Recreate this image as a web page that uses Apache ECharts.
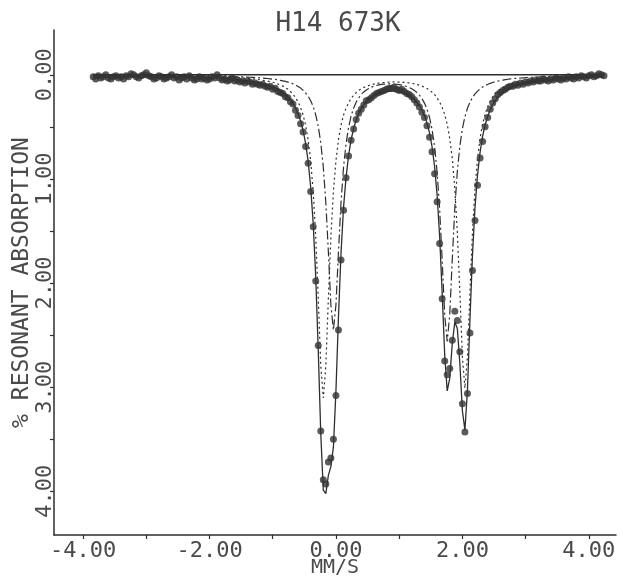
<!DOCTYPE html>
<html>
<head>
<meta charset="utf-8">
<script src="https://cdn.jsdelivr.net/npm/echarts@6/dist/echarts.min.js"></script>
<style>
html,body{margin:0;padding:0;background:#fff;}
#chart{width:623px;height:578px;}
</style>
</head>
<body>
<div id="chart"></div>
<script>
// Velocity channels (mm/s)
const velocity = [
-3.84,-3.80,-3.76,-3.72,-3.68,-3.64,-3.60,-3.56,-3.52,-3.48,-3.44,-3.40,-3.36,-3.32,-3.28,-3.24,-3.20,-3.16,-3.12,-3.08,-3.04,-3.00,
-2.96,-2.92,-2.88,-2.84,-2.80,-2.76,-2.72,-2.68,-2.64,-2.60,-2.56,-2.52,-2.48,-2.44,-2.40,-2.36,-2.32,-2.28,-2.24,-2.20,-2.16,-2.12,
-2.08,-2.04,-2.00,-1.96,-1.92,-1.88,-1.84,-1.80,-1.76,-1.72,-1.68,-1.64,-1.60,-1.56,-1.52,-1.48,-1.44,-1.40,-1.36,-1.32,-1.28,-1.24,
-1.20,-1.16,-1.12,-1.08,-1.04,-1.00,-0.96,-0.92,-0.88,-0.84,-0.80,-0.76,-0.72,-0.68,-0.64,-0.60,-0.56,-0.52,-0.48,-0.44,-0.40,-0.36,
-0.32,-0.28,-0.24,-0.20,-0.16,-0.12,-0.08,-0.04,0.00,0.04,0.08,0.12,0.16,0.20,0.24,0.28,0.32,0.36,0.40,0.44,0.48,0.52,0.56,0.60,
0.64,0.68,0.72,0.76,0.80,0.84,0.88,0.92,0.96,1.00,1.04,1.08,1.12,1.16,1.20,1.24,1.28,1.32,1.36,1.40,1.44,1.48,1.52,1.56,1.60,1.64,
1.68,1.72,1.76,1.80,1.84,1.88,1.92,1.96,2.00,2.04,2.08,2.12,2.16,2.20,2.24,2.28,2.32,2.36,2.40,2.44,2.48,2.52,2.56,2.60,2.64,2.68,
2.72,2.76,2.80,2.84,2.88,2.92,2.96,3.00,3.04,3.08,3.12,3.16,3.20,
3.24,3.28,3.32,3.36,3.40,3.44,3.48,3.52,3.56,3.60,3.64,3.68,3.72,3.76,3.80,3.84,3.88,3.92,3.96,4.00,4.04,4.08,4.12,4.16,4.20,4.24
];

// Measured % resonant absorption
const absorption = [
.02,.04,.01,.03,.02,.00,.03,.04,.02,.01,.03,.02,.04,.01,.02,-.01,.00,.02,.03,.01,.00,-.02,
.01,.02,.04,.03,.01,.02,.04,.03,.02,.00,.03,.02,.05,.03,.02,.04,.01,.03,.05,.04,.02,.04,
.03,.05,.04,.02,.03,.00,.03,.05,.04,.06,.05,.03,.06,.05,.07,.06,.08,.06,.07,.09,.08,.09,
.10,.09,.11,.12,.11,.14,.13,.16,.17,.18,.21,.22,.26,.28,.34,.39,.47,.55,.69,.85,1.12,1.46,
1.98,2.60,3.42,3.89,3.93,3.72,3.68,3.50,3.08,2.45,1.78,1.30,.99,.78,.63,.52,.43,.37,.33,.29,.25,.24,.22,.20,
.18,.17,.16,.15,.14,.13,.13,.12,.14,.15,.14,.16,.18,.19,.21,.24,.27,.31,.36,.41,.49,.60,.74,.95,1.22,1.62,
2.15,2.75,2.88,2.82,2.55,2.27,2.36,2.66,3.16,3.43,3.06,2.48,1.88,1.40,1.06,.80,.64,.50,.41,.33,.27,.23,.19,.17,.15,.14,
.12,.11,.11,.09,.10,.08,.09,.07,.08,.06,.07,.05,.06,
.06,.04,.05,.06,.04,.05,.03,.04,.05,.03,.04,.02,.03,.04,.02,.03,.01,.02,.03,.01,.00,.02,.01,-.01,.00,.01
];

// Fitted component A (dotted doublet)
const fitA = [
.01,.01,.01,.01,.01,.01,.01,.01,.01,.01,.01,.01,.01,.01,.01,.01,.01,.01,.01,.01,.01,.01,
.01,.01,.01,.01,.01,.01,.01,.01,.01,.01,.01,.01,.01,.01,.01,.01,.01,.01,.02,.02,.02,.02,
.02,.02,.02,.02,.02,.02,.02,.02,.02,.02,.023,.025,.026,.027,.029,.031,.032,.034,.036,.039,.042,.045,
.048,.052,.056,.061,.066,.072,.079,.088,.098,.109,.123,.140,.161,.186,.219,.260,.314,.385,.485,.624,.826,1.120,
1.554,2.149,2.794,3.104,2.794,2.149,1.554,1.120,.826,.624,.485,.386,.322,.269,.228,.196,.171,.151,.135,.122,.112,.103,.095,.089,
.084,.080,.077,.074,.072,.071,.070,.069,.070,.070,.072,.073,.075,.079,.083,.087,.093,.100,.109,.119,.132,.148,.167,.190,.222,.261,
.313,.381,.476,.611,.806,1.090,1.510,2.086,2.709,3.009,2.709,2.084,1.508,1.088,.803,.607,.472,.376,.307,.254,.214,.182,.158,.137,.121,.107,
.096,.086,.078,.071,.065,.060,.055,.051,.047,.044,.041,.038,.036,
.034,.032,.031,.029,.027,.026,.025,.024,.022,.021,.020,.019,.018,.018,.017,.016,.016,.015,.015,.014,.014,.013,.013,.012,.012,.012
];

// Fitted component B (dash-dot doublet)
const fitB = [
.01,.01,.01,.01,.01,.01,.01,.01,.01,.01,.01,.01,.01,.01,.01,.01,.01,.01,.01,.01,.01,.01,
.01,.01,.01,.01,.01,.01,.01,.01,.01,.01,.01,.01,.01,.01,.01,.01,.01,.01,.01,.01,.01,.01,
.01,.01,.01,.01,.01,.01,.01,.01,.01,.01,.016,.017,.018,.019,.020,.021,.022,.023,.024,.025,.027,.028,
.030,.032,.034,.036,.039,.042,.045,.049,.053,.058,.064,.070,.078,.087,.098,.112,.128,.148,.174,.206,.249,.305,
.384,.494,.653,.886,1.229,1.699,2.209,2.454,2.209,1.700,1.230,.887,.663,.505,.396,.318,.263,.221,.190,.165,.146,.132,.119,.110,
.103,.097,.093,.090,.088,.088,.088,.089,.091,.094,.099,.105,.113,.122,.135,.150,.170,.195,.229,.272,.330,.410,.524,.690,.931,1.287,
1.777,2.306,2.561,2.305,1.775,1.285,.927,.685,.518,.403,.322,.263,.218,.183,.157,.136,.118,.104,.093,.082,.074,.067,.061,.056,.052,.047,
.043,.040,.037,.035,.033,.031,.029,.028,.026,.025,.024,.023,.022,
.020,.019,.019,.018,.017,.017,.016,.015,.015,.014,.014,.013,.012,.012,.011,.011,.011,.010,.010,.010,.009,.009,.009,.008,.008,.008
];

// Total fitted envelope
const fitTotal = [
.02,.02,.02,.02,.02,.02,.02,.02,.02,.02,.02,.02,.02,.02,.02,.02,.02,.02,.02,.02,.02,.02,
.02,.02,.02,.02,.02,.02,.02,.02,.02,.02,.02,.02,.02,.02,.02,.02,.02,.02,.03,.03,.03,.03,
.03,.03,.03,.03,.03,.03,.03,.03,.03,.03,.039,.042,.044,.046,.049,.052,.054,.057,.060,.064,.069,.073,
.078,.084,.090,.097,.105,.114,.124,.137,.151,.167,.187,.210,.239,.273,.317,.372,.442,.533,.659,.830,1.075,1.425,
1.938,2.643,3.447,3.990,4.023,3.848,3.763,3.574,3.035,2.324,1.715,1.273,.985,.774,.624,.514,.434,.372,.325,.287,.258,.235,.214,.199,
.187,.177,.170,.164,.160,.159,.158,.158,.161,.164,.171,.178,.188,.201,.218,.237,.263,.295,.338,.391,.462,.558,.691,.880,1.153,1.548,
2.090,2.687,3.037,2.916,2.581,2.375,2.437,2.771,3.227,3.412,3.031,2.347,1.726,1.271,.960,.743,.590,.480,.400,.336,.288,.249,.219,.193,.173,.154,
.139,.126,.115,.106,.098,.091,.084,.079,.073,.069,.065,.061,.058,
.054,.051,.050,.047,.044,.043,.041,.039,.037,.035,.034,.032,.030,.030,.028,.027,.027,.025,.025,.024,.023,.022,.022,.020,.020,.020
];

const xTicks = [-4,-3,-2,-1,0,1,2,3,4];
const xTickLabels = [-4,-2,0,2,4];
const yTicks = [0,0.5,1,1.5,2,2.5,3,3.5,4];
const yTickLabels = [0,1,2,3,4];

const ink = '#2e2e2e';
const textInk = '#4a4a4a';
const FONT = 'DejaVu Sans Mono';

function pairs(ys){ return velocity.map((v,i)=>[v, ys[i]]); }

const chart = echarts.init(document.getElementById('chart'), null, {renderer:'canvas'});
chart.setOption({
  animation:false,
  backgroundColor:'#fff',
  title:{
    text:'H14 673K',
    left:333, top:6, textAlign:'center',
    textStyle:{fontFamily:FONT, fontSize:26, fontWeight:'normal', color:textInk}
  },
  grid:{left:54, right:7, top:30, bottom:43, containLabel:false, outerBoundsMode:'none'},
  xAxis:{
    type:'value', min:-4.46, max:4.43,
    name:'MM/S', nameLocation:'middle', nameGap:23, nameMoveOverlap:false,
    nameTextStyle:{fontFamily:FONT, fontSize:20, color:textInk},
    axisLine:{show:true, onZero:false, lineStyle:{color:ink, width:1.5}},
    axisTick:{show:true, customValues:xTicks, length:4, lineStyle:{color:ink, width:1.2}},
    axisLabel:{customValues:xTickLabels, margin:5, formatter:v=>Number(v).toFixed(2),
      fontFamily:FONT, fontSize:22, color:textInk},
    splitLine:{show:false}
  },
  yAxis:{
    type:'value', inverse:true, min:-0.43, max:4.42,
    name:'% RESONANT ABSORPTION', nameLocation:'middle', nameGap:20, nameRotate:90, nameMoveOverlap:false,
    nameTextStyle:{fontFamily:FONT, fontSize:23, color:textInk},
    axisLine:{show:true, onZero:false, lineStyle:{color:ink, width:1.5}},
    axisTick:{show:true, customValues:yTicks, length:4, lineStyle:{color:ink, width:1.2}},
    axisLabel:{customValues:yTickLabels, rotate:90, margin:-2, formatter:v=>Number(v).toFixed(2),
      fontFamily:FONT, fontSize:22, color:textInk},
    splitLine:{show:false}
  },
  series:[
    {name:'baseline', type:'line', symbol:'none', silent:true,
     data:[[velocity[0],0],[velocity[velocity.length-1],0]],
     lineStyle:{color:ink, width:1.3}, z:2},
    {name:'siteA', type:'line', symbol:'none', data:pairs(fitA),
     lineStyle:{color:ink, width:1.2, type:[2,3]}, z:3},
    {name:'siteB', type:'line', symbol:'none', data:pairs(fitB),
     lineStyle:{color:ink, width:1.2, type:[9,3,2,3]}, z:3},
    {name:'fit', type:'line', symbol:'none', data:pairs(fitTotal),
     lineStyle:{color:ink, width:1.3}, z:4},
    {name:'data', type:'scatter', symbol:'circle', symbolSize:7, data:pairs(absorption),
     itemStyle:{color:'#333'}, z:5}
  ]
});
</script>
</body>
</html>
